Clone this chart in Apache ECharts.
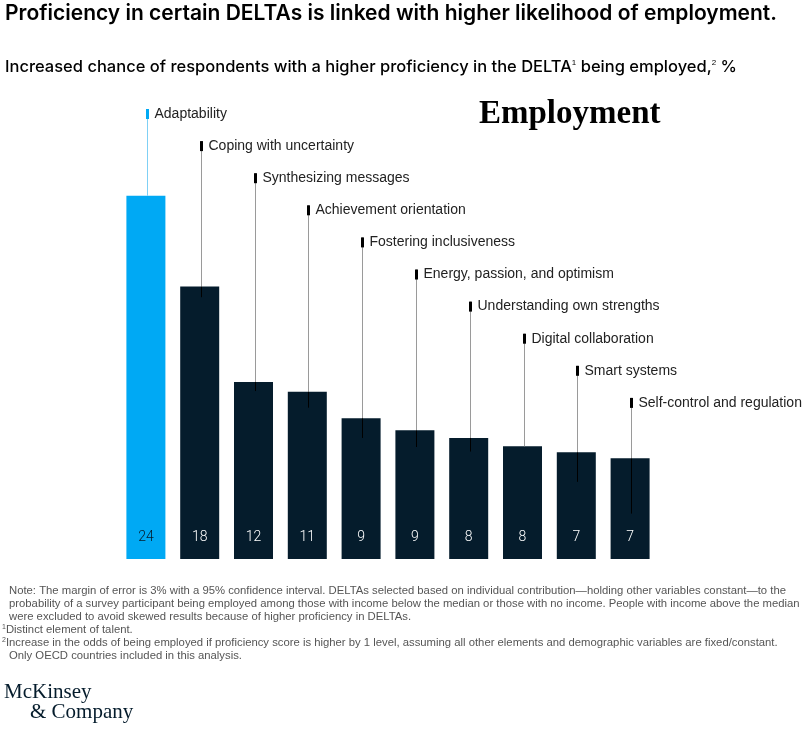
<!DOCTYPE html>
<html>
<head>
<meta charset="utf-8">
<script src="https://cdn.jsdelivr.net/npm/echarts@6/dist/echarts.min.js"></script>
<style>
  html, body { margin: 0; padding: 0; background: #fff; }
  #chart { width: 805px; height: 729px; }
</style>
</head>
<body>
<div id="chart"></div>
<script>
var categories = ['Adaptability', 'Coping with uncertainty', 'Synthesizing messages', 'Achievement orientation',
    'Fostering inclusiveness', 'Energy, passion, and optimism', 'Understanding own strengths',
    'Digital collaboration', 'Smart systems', 'Self-control and regulation'];
var values = [24, 18.0, 11.7, 11.05, 9.3, 8.5, 8.0, 7.45, 7.05, 6.65];
var valueLabels = ['24', '18', '12', '11', '9', '9', '8', '8', '7', '7'];
// where each leader line stops, in % units
var lineEnds = [24, 17.3, 11.1, 10.0, 8.0, 7.4, 7.1, 7.45, 5.1, 3.0];

var footnotes = [
    'Note: The margin of error is 3% with a 95% confidence interval. DELTAs selected based on individual contribution\u2014holding other variables constant\u2014to the',
    'probability of a survey participant being employed among those with income below the median or those with no income. People with income above the median',
    'were excluded to avoid skewed results because of higher proficiency in DELTAs.'
];

var BLUE = '#00A9F4';
var NAVY = '#051C2C';

var chart = echarts.init(document.getElementById('chart'));

var noteFont = '"Liberation Sans", Arial, sans-serif';

var graphics = [
    {
        type: 'text', left: 5, top: 3,
        style: {
            text: 'Proficiency in certain DELTAs is linked with higher likelihood of employment.',
            font: '600 21px Inter, sans-serif', fill: '#000'
        }
    },
    {
        type: 'text', left: 5, top: 59,
        style: {
            text: 'Increased chance of respondents with a higher proficiency in the DELTA{sup|1} being employed,{sup|2} %',
            font: '500 16.5px Inter, sans-serif', fill: '#000',
            rich: {
                sup: { fontSize: 8, verticalAlign: 'top', padding: [0, 0, 9, 0] }
            }
        }
    },
    {
        type: 'text', left: 479, top: 98,
        style: { text: 'Employment', font: 'bold 33px "Liberation Serif", serif', fill: '#000' }
    },
    {
        type: 'text', left: 4, top: 682,
        style: { text: 'McKinsey', font: '21px "Liberation Serif", serif', fill: NAVY }
    },
    {
        type: 'text', left: 30, top: 702,
        style: { text: '& Company', font: '21px "Liberation Serif", serif', fill: NAVY }
    }
];

footnotes.forEach(function (line, i) {
    graphics.push({
        type: 'text', left: 9, top: 585 + i * 13,
        style: { text: line, font: '11.3px ' + noteFont, fill: '#555' }
    });
});
graphics.push({
    type: 'text', left: 2, top: 624,
    style: {
        text: '{s|1}Distinct element of talent.',
        font: '11.3px ' + noteFont, fill: '#555',
        rich: { s: { fontSize: 7, verticalAlign: 'top', padding: [0, 0, 5, 0] } }
    }
});
graphics.push({
    type: 'text', left: 2, top: 637,
    style: {
        text: '{s|2}Increase in the odds of being employed if proficiency score is higher by 1 level, assuming all other elements and demographic variables are fixed/constant.',
        font: '11.3px ' + noteFont, fill: '#555',
        rich: { s: { fontSize: 7, verticalAlign: 'top', padding: [0, 0, 5, 0] } }
    }
});
graphics.push({
    type: 'text', left: 9, top: 650,
    style: { text: 'Only OECD countries included in this analysis.', font: '11.3px ' + noteFont, fill: '#555' }
});

chart.setOption({
    animation: false,
    graphic: graphics,
    grid: { left: 119, right: 148, top: 105, bottom: 170 },
    xAxis: {
        type: 'category',
        data: categories,
        show: false
    },
    yAxis: {
        type: 'value',
        min: 0,
        max: 30,
        show: false
    },
    series: [
        {
            type: 'bar',
            barWidth: 39,
            data: values.map(function (v, i) {
                return {
                    value: v,
                    itemStyle: { color: i === 0 ? BLUE : NAVY },
                    label: { color: i === 0 ? NAVY : '#fff' }
                };
            }),
            label: {
                show: true,
                position: 'insideBottom',
                distance: 15,
                fontSize: 14,
                fontFamily: 'Roboto, sans-serif',
                fontWeight: 300,
                formatter: function (p) { return valueLabels[p.dataIndex]; }
            },
            z: 2
        },
        {
            type: 'custom',
            z: 5,
            data: categories.map(function (c, i) { return [i, values[i], lineEnds[i]]; }),
            renderItem: function (params, api) {
                var i = api.value(0);
                var x = Math.round(api.coord([i, 0])[0]) + 1.5;
                var yTop = api.coord([i, 30])[1] + 4 + i * 32.1;
                var yBar = api.coord([i, api.value(1)])[1];
                var yEnd = api.coord([i, api.value(2)])[1];
                var first = i === 0;
                return {
                    type: 'group',
                    children: [
                        {
                            type: 'line',
                            shape: { x1: x, y1: yTop, x2: x, y2: yBar },
                            style: { stroke: first ? '#7fd0f5' : '#9a9a9a', lineWidth: 1 }
                        },
                        {
                            type: 'line',
                            shape: { x1: x, y1: yBar, x2: x, y2: yEnd },
                            style: { stroke: '#000', lineWidth: 1 }
                        },
                        {
                            type: 'rect',
                            shape: { x: x - 1.5, y: yTop, width: 3, height: 10 },
                            style: { fill: first ? BLUE : '#000' }
                        },
                        {
                            type: 'text',
                            x: x + 7,
                            y: yTop + 5,
                            style: {
                                text: categories[i],
                                font: '14px "Liberation Sans", Arial, sans-serif',
                                fill: '#222',
                                verticalAlign: 'middle',
                                align: 'left'
                            }
                        }
                    ]
                };
            }
        }
    ]
});
</script>
</body>
</html>
